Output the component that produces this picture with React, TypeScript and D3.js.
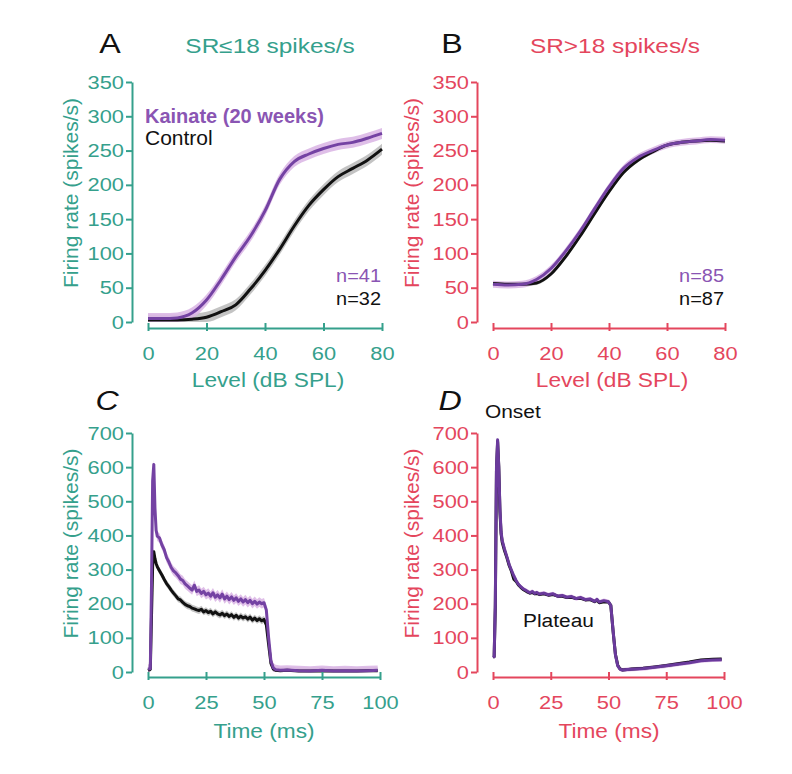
import { useEffect, useRef } from 'react';
import * as d3 from 'd3';

const WIDTH = 792;
const HEIGHT = 774;

const TEAL = '#35a08c';
const RED = '#e4465d';
const PURPLE = '#7442a3';
const PURPLE_TEXT = '#8a55b3';
const PURPLE_BAND = '#dcb8e6';
const GRAY_BAND = '#bdbdbd';
const FONT = '"Liberation Sans", Arial, sans-serif';
// The source figure was stretched sideways, so its lettering is wider than normal.
const SX = 1.15;

// ── Rate-level functions (A, B) ─────────────────────────────────────────
const levels = [0, 5, 10, 15, 20, 25, 30, 35, 40, 45, 50, 55, 60, 65, 70, 75, 80];
const kainateLowSR = [5, 5, 6, 13, 32, 62, 95, 125, 162, 208, 234, 245, 253, 259, 262, 268, 275];
const controlLowSR = [3, 3, 3, 4, 7, 15, 25, 48, 75, 106, 140, 170, 193, 212, 224, 236, 252];
const kainateHighSR = [55, 54, 55, 62, 78, 103, 132, 165, 197, 224, 240, 250, 258, 262, 264, 266, 265];
const controlHighSR = [56, 55, 55, 57, 70, 95, 125, 158, 190, 218, 236, 248, 258, 262, 264, 265, 264];

// ── PSTHs (C, D) ────────────────────────────────────────────────────────
const timeC = [
  0, 1, 1.5, 2, 2.5, 3, 3.5, 4,
  5, 6, 7, 8, 9, 10, 11, 12, 13, 14, 15, 16, 17, 18, 19, 20, 21, 22, 23, 24, 25, 26, 27, 28, 29, 30,
  31, 32, 33, 34, 35, 36, 37, 38, 39, 40, 41, 42, 43, 44, 45, 46, 47, 48, 49, 50, 51, 52, 53, 54, 55,
  57, 60, 65, 70, 75, 80, 85, 90, 95, 99,
];
const kainatePsthLow = [
  8, 10, 250, 560, 608, 480, 415, 398,
  392, 372, 358, 335, 322, 306, 296, 290, 282, 272, 268, 258, 252, 246, 240, 254, 236, 240, 230, 236, 226, 231, 222, 232, 219, 226,
  217, 228, 214, 222, 212, 220, 210, 217, 207, 214, 205, 212, 203, 210, 200, 207, 199, 205, 200, 203, 182, 100, 32, 12, 7,
  5, 6, 4, 3, 5, 3, 4, 3, 4, 5,
];
const controlPsthLow = [
  5, 8, 160, 310, 352, 332, 318, 308,
  296, 284, 271, 259, 250, 240, 231, 223, 214, 211, 204, 198, 194, 192, 187, 185, 182, 180, 184, 176, 180, 174, 178, 170, 176, 170,
  167, 172, 165, 170, 163, 168, 160, 166, 158, 164, 158, 162, 155, 161, 152, 158, 151, 156, 150, 154, 138, 80, 25, 9, 5,
  4, 5, 3, 3, 4, 3, 3, 3, 4, 4,
];
const timeD = [
  0, 0.5, 1, 1.5, 2, 2.5, 3, 3.5, 4,
  5, 6, 7, 8, 9, 10, 11, 12, 13, 14, 15, 16, 17, 18, 19, 20,
  22, 24, 26, 28, 30, 32, 34, 36, 38, 40, 42, 44, 45, 46, 48, 50,
  51, 52, 53, 54, 55, 56, 58, 60, 65, 70, 75, 80, 85, 90, 95, 99,
];
const kainatePsthHigh = [
  48, 45, 200, 600, 680, 600, 480, 410, 385,
  360, 338, 315, 298, 282, 268, 257, 250, 244, 240, 236, 232, 236, 230, 233, 228,
  231, 226, 229, 222, 224, 219, 221, 215, 218, 212, 214, 207, 213, 205, 209, 206,
  195, 120, 50, 18, 8, 6, 7, 8, 10, 14, 18, 23, 27, 33, 35, 36,
];
const controlPsthHigh = [
  45, 45, 190, 590, 675, 600, 470, 405, 380,
  355, 335, 312, 295, 272, 265, 255, 248, 242, 238, 234, 231, 233, 229, 230, 227,
  229, 225, 227, 222, 222, 218, 219, 215, 216, 211, 212, 206, 210, 203, 206, 205,
  195, 118, 52, 20, 9, 6, 7, 9, 11, 15, 19, 24, 29, 35, 37, 38,
];

// Standard errors (spikes/s) drawn as shaded bands.
const SEM_KAINATE_LOW = 8;
const SEM_CONTROL_LOW = 8;
const SEM_KAINATE_HIGH = 5;
const SEM_CONTROL_HIGH = 3;
const SEM_PSTH_KAINATE_LOW = 14;
const SEM_PSTH_CONTROL_LOW = 10;
const SEM_PSTH_KAINATE_HIGH = 6;

const levelTicks = [0, 20, 40, 60, 80];
const rateTicksLevel = [0, 50, 100, 150, 200, 250, 300, 350];
const timeTicks = [0, 25, 50, 75, 100];
const rateTicksTime = [0, 100, 200, 300, 400, 500, 600, 700];

interface Series {
  xs: number[];
  ys: number[];
  sem: number;
  line: string;
  band: string;
}

interface Panel {
  color: string;
  xDomain: [number, number];
  yDomain: [number, number];
  xRange: [number, number];
  yRange: [number, number];
  yAxisX: number;
  xAxisY: number;
  xTicks: number[];
  yTicks: number[];
  xLabel: string;
  xLabelX: number;
  xLabelY: number;
  yLabelX: number;
  curve: d3.CurveFactory;
  series: Series[];
}

const panels: Panel[] = [
  {
    color: TEAL, xDomain: [0, 80], yDomain: [0, 350], xRange: [148, 382], yRange: [322, 82],
    yAxisX: 132, xAxisY: 328, xTicks: levelTicks, yTicks: rateTicksLevel,
    xLabel: 'Level (dB SPL)', xLabelX: 268, xLabelY: 387, yLabelX: 78, curve: d3.curveMonotoneX,
    series: [
      { xs: levels, ys: controlLowSR, sem: SEM_CONTROL_LOW, line: '#111', band: GRAY_BAND },
      { xs: levels, ys: kainateLowSR, sem: SEM_KAINATE_LOW, line: PURPLE, band: PURPLE_BAND },
    ],
  },
  {
    color: RED, xDomain: [0, 80], yDomain: [0, 350], xRange: [493, 725], yRange: [322, 82],
    yAxisX: 477, xAxisY: 328, xTicks: levelTicks, yTicks: rateTicksLevel,
    xLabel: 'Level (dB SPL)', xLabelX: 612, xLabelY: 387, yLabelX: 419, curve: d3.curveMonotoneX,
    series: [
      { xs: levels, ys: controlHighSR, sem: SEM_CONTROL_HIGH, line: '#111', band: GRAY_BAND },
      { xs: levels, ys: kainateHighSR, sem: SEM_KAINATE_HIGH, line: PURPLE, band: PURPLE_BAND },
    ],
  },
  {
    color: TEAL, xDomain: [0, 100], yDomain: [0, 700], xRange: [148, 380], yRange: [672, 433],
    yAxisX: 132, xAxisY: 677, xTicks: timeTicks, yTicks: rateTicksTime,
    xLabel: 'Time (ms)', xLabelX: 264, xLabelY: 738, yLabelX: 78, curve: d3.curveLinear,
    series: [
      { xs: timeC, ys: controlPsthLow, sem: SEM_PSTH_CONTROL_LOW, line: '#111', band: GRAY_BAND },
      { xs: timeC, ys: kainatePsthLow, sem: SEM_PSTH_KAINATE_LOW, line: PURPLE, band: PURPLE_BAND },
    ],
  },
  {
    color: RED, xDomain: [0, 100], yDomain: [0, 700], xRange: [493, 724], yRange: [672, 433],
    yAxisX: 477, xAxisY: 677, xTicks: timeTicks, yTicks: rateTicksTime,
    xLabel: 'Time (ms)', xLabelX: 609, xLabelY: 738, yLabelX: 419, curve: d3.curveLinear,
    series: [
      { xs: timeD, ys: controlPsthHigh, sem: 0, line: '#111', band: GRAY_BAND },
      { xs: timeD, ys: kainatePsthHigh, sem: SEM_PSTH_KAINATE_HIGH, line: '#6a3a9c', band: PURPLE_BAND },
    ],
  },
];

type G = d3.Selection<SVGGElement, unknown, null, undefined>;

function addText(
  g: G, x: number, y: number, text: string,
  opts: { size: number; fill: string; anchor?: string; weight?: string; italic?: boolean; sx?: number },
) {
  g.append('text')
    .attr('transform', `translate(${x},${y}) scale(${opts.sx ?? SX},1)`)
    .attr('text-anchor', opts.anchor ?? 'start')
    .attr('fill', opts.fill)
    .attr('font-size', `${opts.size}px`)
    .attr('font-weight', opts.weight ?? 'normal')
    .attr('font-style', opts.italic ? 'italic' : 'normal')
    .attr('font-family', FONT)
    .text(text);
}

function drawPanel(root: G, p: Panel) {
  const x = d3.scaleLinear().domain(p.xDomain).range(p.xRange);
  const y = d3.scaleLinear().domain(p.yDomain).range(p.yRange);
  const g = root.append('g');

  // SEM bands under the lines
  p.series.forEach((s) => {
    if (s.sem <= 0) return;
    const area = d3.area<number>()
      .x((_, i) => x(s.xs[i]))
      .y0((d) => y(Math.max(0, d - s.sem)))
      .y1((d) => y(d + s.sem))
      .curve(p.curve);
    g.append('path').datum(s.ys).attr('d', area).attr('fill', s.band).attr('opacity', 0.9);
  });

  p.series.forEach((s) => {
    const line = d3.line<number>()
      .x((_, i) => x(s.xs[i]))
      .y((d) => y(d))
      .curve(p.curve);
    g.append('path')
      .datum(s.ys)
      .attr('d', line)
      .attr('fill', 'none')
      .attr('stroke', s.line)
      .attr('stroke-width', 3)
      .attr('stroke-linejoin', 'round');
  });

  // Y axis (detached from the x axis)
  g.append('g')
    .attr('transform', `translate(${p.yAxisX},0)`)
    .call(d3.axisLeft(y).tickValues(p.yTicks).tickSize(6).tickSizeOuter(0).tickFormat(d3.format('d')))
    .call((sel) => {
      sel.select('.domain').attr('stroke', p.color).attr('stroke-width', 2);
      sel.selectAll('.tick line').attr('stroke', p.color).attr('stroke-width', 2);
      sel.selectAll('.tick text')
        .attr('x', -8 / SX)
        .attr('transform', `scale(${SX},1)`)
        .attr('fill', p.color)
        .attr('font-size', '19px')
        .attr('font-family', FONT);
    });

  // X axis
  g.append('g')
    .attr('transform', `translate(0,${p.xAxisY})`)
    .call(d3.axisBottom(x).tickValues(p.xTicks).tickSize(6).tickSizeOuter(0).tickFormat(d3.format('d')))
    .call((sel) => {
      sel.select('.domain').attr('stroke', p.color).attr('stroke-width', 2);
      sel.selectAll('.tick line').attr('stroke', p.color).attr('stroke-width', 2).attr('y1', -5).attr('y2', 3);
      sel.selectAll('.tick text')
        .attr('y', 32)
        .attr('dy', 0)
        .attr('transform', `scale(${SX},1)`)
        .attr('fill', p.color)
        .attr('font-size', '19px')
        .attr('font-family', FONT);
    });

  addText(g, p.xLabelX, p.xLabelY, p.xLabel, { size: 21, fill: p.color, anchor: 'middle', sx: 1.08 });

  const yMid = (p.yRange[0] + p.yRange[1]) / 2 - 9;
  g.append('text')
    .attr('transform', `translate(${p.yLabelX},${yMid}) rotate(-90)`)
    .attr('text-anchor', 'middle')
    .attr('fill', p.color)
    .attr('font-size', '21px')
    .attr('font-family', FONT)
    .text('Firing rate (spikes/s)');
}

export default function App() {
  const svgRef = useRef<SVGSVGElement>(null);

  useEffect(() => {
    if (!svgRef.current) return;
    const svg = d3.select(svgRef.current);
    svg.selectAll('*').remove();
    const root = svg.append('g') as G;

    panels.forEach((p) => drawPanel(root, p));

    // Panel letters and titles
    addText(root, 110, 53, 'A', { size: 28, fill: '#111', anchor: 'middle' });
    addText(root, 270, 53, 'SR≤18 spikes/s', { size: 20, fill: TEAL, anchor: 'middle', sx: 1.22 });
    addText(root, 452, 53, 'B', { size: 28, fill: '#111', anchor: 'middle' });
    addText(root, 615, 53, 'SR>18 spikes/s', { size: 20, fill: RED, anchor: 'middle', sx: 1.22 });
    addText(root, 107, 410, 'C', { size: 28, fill: '#111', anchor: 'middle', italic: true });
    addText(root, 450, 410, 'D', { size: 28, fill: '#111', anchor: 'middle', italic: true });

    // Legend in A
    addText(root, 145, 123, 'Kainate (20 weeks)', { size: 20, fill: PURPLE_TEXT, weight: 'bold', sx: 1 });
    addText(root, 145, 145, 'Control', { size: 21, fill: '#111', sx: 1 });

    // Unit counts
    addText(root, 381, 282, 'n=41', { size: 19, fill: PURPLE_TEXT, anchor: 'end', sx: 1.05 });
    addText(root, 381, 305, 'n=32', { size: 19, fill: '#111', anchor: 'end', sx: 1.05 });
    addText(root, 724, 282, 'n=85', { size: 19, fill: PURPLE_TEXT, anchor: 'end', sx: 1.05 });
    addText(root, 724, 305, 'n=87', { size: 19, fill: '#111', anchor: 'end', sx: 1.05 });

    // Response-phase annotations in D
    addText(root, 485, 418, 'Onset', { size: 19, fill: '#111', sx: 1.1 });
    addText(root, 523, 627, 'Plateau', { size: 19, fill: '#111', sx: 1.1 });
  }, []);

  return (
    <svg
      ref={svgRef}
      width={WIDTH}
      height={HEIGHT}
      style={{ position: 'absolute', left: 0, top: 0, background: '#fff' }}
    />
  );
}
